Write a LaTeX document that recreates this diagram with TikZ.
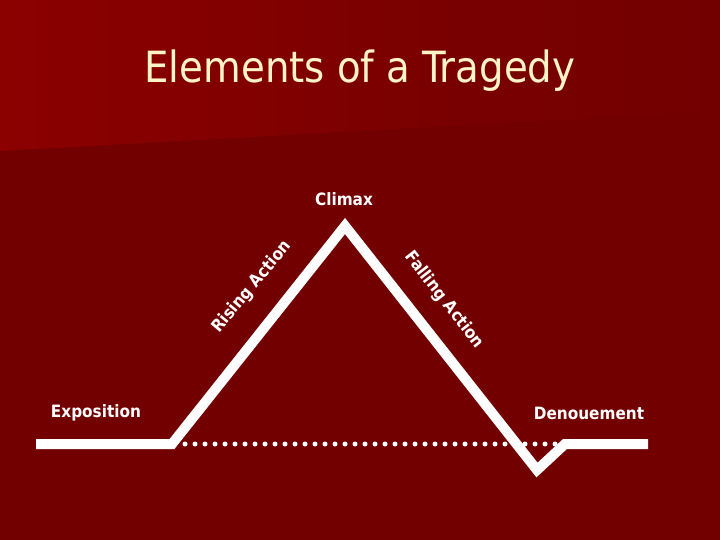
\documentclass[tikz,border=0pt]{standalone}
\usepackage{fontspec}
\setmainfont{DejaVu Sans Condensed}
\usetikzlibrary{positioning}

\definecolor{bgred}{RGB}{115,0,0}
\definecolor{bandleft}{RGB}{140,0,0}
\definecolor{bandmid}{RGB}{122,0,0}
\definecolor{titlecream}{RGB}{255,244,200}

% band shading: lighter on the left, fading into the background
\pgfdeclarehorizontalshading{bandshade}{100bp}{color(0bp)=(bandleft); color(25bp)=(bandleft); color(55bp)=(bandmid); color(75bp)=(bgred); color(100bp)=(bgred)}

\tikzset{
	lbl/.style={text=white, font=\bfseries\fontsize{17}{20}\selectfont, inner sep=0pt},
	plotline/.style={white, line width=10pt, line join=miter, line cap=butt},
	dotline/.style={white, line width=5pt, line cap=round, dash pattern=on 0pt off 10pt}
}

\begin{document}
\begin{tikzpicture}[x=1pt, y=-1pt]
		% Slide area (pixel units, y downwards)
		\def\slidew{720} \def\slideh{540}
		\useasboundingbox (0,0) rectangle (\slidew,\slideh);
		
		% Background and lighter top band
		\fill[bgred] (0,0) rectangle (\slidew,\slideh);
		\shade[shading=bandshade] (0,0) -- (\slidew,0) -- (\slidew,111) -- (0,151) -- cycle;
		
		% Title
		\node[anchor=base, text=titlecream, font=\fontsize{43}{50}\selectfont, inner sep=0pt]
		(title) at (360,83) {Elements of a Tragedy};
		
		% Key points of the plot line
		\coordinate (start) at (36,444);
		\coordinate (expo) at (172,444);
		\coordinate (climax) at (345,226);
		\coordinate (low) at (537,470);
		\coordinate (denou) at (565,444);
		\coordinate (stop) at (648,444);
		
		% Dotted base line
		\coordinate (dotA) at (185,444);
		\coordinate (dotB) at (565,444);
		\draw[dotline] (dotA) -- (dotB);
		
		% The plot line
		\draw[plotline] (start) -- (expo) -- (climax) -- (low) -- (denou) -- (stop);
		
		% Labels
		\node[lbl, anchor=base] (lexpo) at (96,417) {Exposition};
		\node[lbl, anchor=base] (ldenou) at (589,419) {Denouement};
		\node[lbl, anchor=base] (lclimax) at (344,206) {Climax};
		\node[lbl, rotate=50] (lrise) at (252,287) {Rising Action};
		\node[lbl, rotate=-52] (lfall) at (444,300) {Falling Action};
	\end{tikzpicture}
\end{document}
